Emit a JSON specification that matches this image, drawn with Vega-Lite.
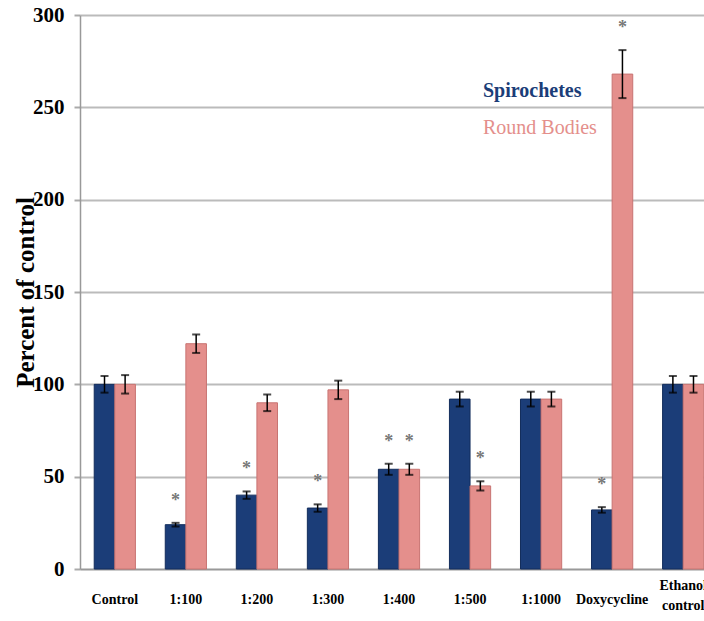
{
  "$schema": "https://vega.github.io/schema/vega-lite/v6.json",
  "width": 638,
  "height": 554,
  "autosize": "none",
  "padding": {"left": 80, "top": 15, "right": 0, "bottom": 52},
  "background": "white",
  "config": {
    "view": {"stroke": null},
    "font": "Liberation Serif"
  },
  "data": {
    "values": [
      {"group": "Control", "series": "Spirochetes", "value": 100, "err": 4.5, "sig": false},
      {"group": "Control", "series": "Round Bodies", "value": 100, "err": 5, "sig": false},
      {"group": "1:100", "series": "Spirochetes", "value": 24, "err": 1, "sig": true},
      {"group": "1:100", "series": "Round Bodies", "value": 122, "err": 5, "sig": false},
      {"group": "1:200", "series": "Spirochetes", "value": 40, "err": 2, "sig": true},
      {"group": "1:200", "series": "Round Bodies", "value": 90, "err": 4.5, "sig": false},
      {"group": "1:300", "series": "Spirochetes", "value": 33, "err": 2, "sig": true},
      {"group": "1:300", "series": "Round Bodies", "value": 97, "err": 5, "sig": false},
      {"group": "1:400", "series": "Spirochetes", "value": 54, "err": 3, "sig": true},
      {"group": "1:400", "series": "Round Bodies", "value": 54, "err": 3, "sig": true},
      {"group": "1:500", "series": "Spirochetes", "value": 92, "err": 4, "sig": false},
      {"group": "1:500", "series": "Round Bodies", "value": 45, "err": 2.5, "sig": true},
      {"group": "1:1000", "series": "Spirochetes", "value": 92, "err": 4, "sig": false},
      {"group": "1:1000", "series": "Round Bodies", "value": 92, "err": 4, "sig": false},
      {"group": "Doxycycline", "series": "Spirochetes", "value": 32, "err": 1.5, "sig": true},
      {"group": "Doxycycline", "series": "Round Bodies", "value": 268, "err": 13, "sig": true},
      {"group": "Ethanol control", "series": "Spirochetes", "value": 100, "err": 4.5, "sig": false},
      {"group": "Ethanol control", "series": "Round Bodies", "value": 100, "err": 4.5, "sig": false}
    ]
  },
  "transform": [
    {"calculate": "datum.value - datum.err", "as": "lo"},
    {"calculate": "datum.value + datum.err", "as": "hi"}
  ],
  "encoding": {
    "x": {
      "field": "group",
      "type": "nominal",
      "sort": null,
      "scale": {"paddingInner": 0.42, "paddingOuter": 0.2},
      "axis": {
        "title": null,
        "labelAngle": 0,
        "labelFont": "Liberation Serif",
        "labelFontWeight": "bold",
        "labelFontSize": 14,
        "labelColor": "black",
        "labelPadding": {"condition": {"test": "datum.value == 'Ethanol control'", "value": 16}, "value": 30},
        "labelBaseline": "middle",
        "labelExpr": "datum.label == 'Ethanol control' ? ['Ethanol', 'control'] : datum.label",
        "labelLineHeight": 20,
        "ticks": false,
        "domainColor": "#999999",
        "domainWidth": 1.5,
        "grid": false
      }
    },
    "xOffset": {"field": "series", "type": "nominal", "sort": ["Spirochetes", "Round Bodies"]}
  },
  "layer": [
    {
      "mark": {"type": "bar", "strokeWidth": 1},
      "encoding": {
        "y": {
          "field": "value",
          "type": "quantitative",
          "scale": {"domain": [0, 300], "nice": false},
          "axis": {
            "values": [0, 50, 100, 150, 200, 250, 300],
            "title": "Percent of control",
            "titleFont": "Liberation Serif",
            "titleFontWeight": "bold",
            "titleFontSize": 25,
            "titleColor": "black",
            "titleX": -55,
            "titleY": 277,
            "titleAngle": -90,
            "titleBaseline": "middle",
            "titleAlign": "center",
            "labelFont": "Liberation Serif",
            "labelFontWeight": "bold",
            "labelFontSize": 21,
            "labelColor": "black",
            "labelPadding": 10,
            "tickSize": 6,
            "tickColor": "#aaaaaa",
            "tickWidth": 2,
            "domainColor": "#999999",
            "domainWidth": 1.5,
            "gridColor": "#bbbbbb",
            "gridWidth": 2
          }
        },
        "color": {
          "field": "series",
          "type": "nominal",
          "sort": ["Spirochetes", "Round Bodies"],
          "scale": {"domain": ["Spirochetes", "Round Bodies"], "range": ["#1b3d78", "#e48f8c"]},
          "legend": {
            "title": null,
            "orient": "none",
            "legendX": 383,
            "legendY": 66,
            "symbolSize": 0,
            "symbolOpacity": 0,
            "symbolStrokeWidth": 0,
            "labelOffset": 0,
            "labelFont": "Liberation Serif",
            "labelFontSize": 20,
            "labelFontWeight": {"expr": "datum.label == 'Spirochetes' ? 'bold' : 'normal'"},
            "labelColor": {"expr": "datum.label == 'Spirochetes' ? '#1b3d78' : '#e48f8c'"},
            "rowPadding": 17
          }
        },
        "stroke": {
          "field": "series",
          "type": "nominal",
          "scale": {"domain": ["Spirochetes", "Round Bodies"], "range": ["#132d5c", "#c87472"]},
          "legend": null
        }
      }
    },
    {
      "mark": {"type": "rule", "color": "black", "strokeWidth": 1.5},
      "encoding": {
        "y": {"field": "lo", "type": "quantitative"},
        "y2": {"field": "hi"}
      }
    },
    {
      "mark": {"type": "tick", "color": "black", "orient": "horizontal", "size": 8, "thickness": 2},
      "encoding": {"y": {"field": "lo", "type": "quantitative"}}
    },
    {
      "mark": {"type": "tick", "color": "black", "orient": "horizontal", "size": 8, "thickness": 2},
      "encoding": {"y": {"field": "hi", "type": "quantitative"}}
    },
    {
      "transform": [{"filter": "datum.sig"}],
      "mark": {"type": "text", "text": "*", "color": "#777777", "fontSize": 18, "font": "Liberation Serif", "fontWeight": "bold", "baseline": "middle", "dy": -22},
      "encoding": {"y": {"field": "hi", "type": "quantitative"}}
    }
  ]
}
